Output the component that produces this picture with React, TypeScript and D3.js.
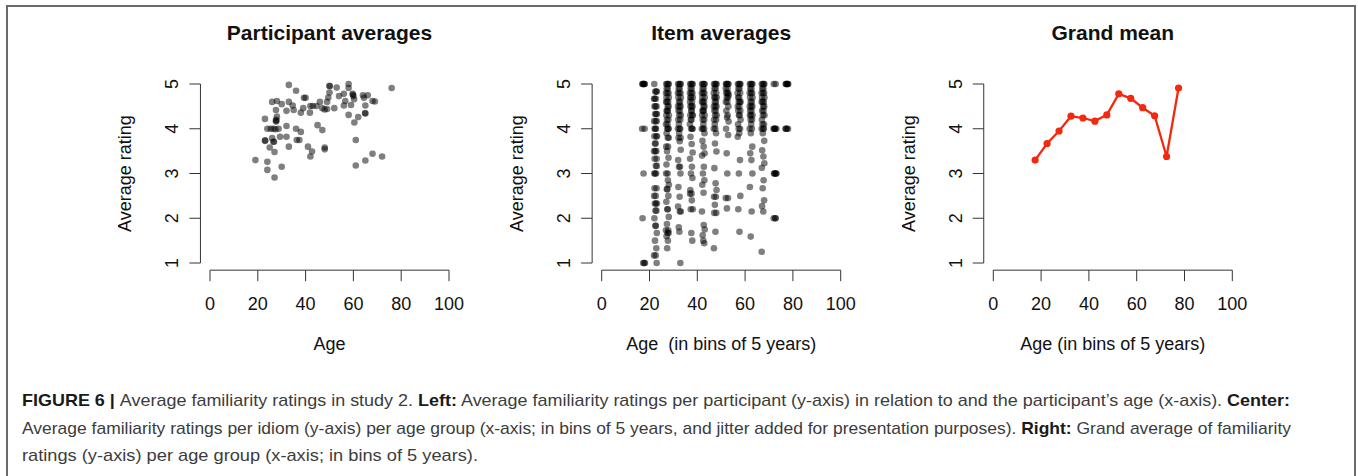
import React, { useEffect, useRef } from "react";
import * as d3 from "d3";

// Left panel: participant age vs their average rating
const partAge = [19, 24, 24, 27, 30, 23, 23, 24, 25.4, 26.5, 25, 26, 27, 26.5, 27.6, 27.6, 27.6, 26, 28, 30,
  28, 28.7, 29.3, 32, 32, 33, 33, 33, 34.6, 35, 32, 36, 36, 36.3, 37.4, 38, 38, 39, 39.3, 40,
  41, 41.8, 42, 42.7, 42, 43, 44.6, 45, 46, 47, 47, 48, 48, 48, 49, 49, 49.5, 50, 50, 52,
  53, 54, 56, 56, 56.6, 58, 58, 58, 59, 59.7, 60, 60.4, 60.3, 61, 61, 62, 64, 64.4, 65, 65,
  65, 66, 68, 68, 69, 72, 76, 23.1, 27.8, 26.8, 50.1, 59.8, 64.9, 27.4];
const partRating = [3.3, 3.26, 3.08, 2.91, 3.15, 4.22, 3.73, 4.0, 4.0, 4.0, 3.58, 3.79, 3.48, 3.71, 4.2, 4.16, 4.42, 4.6, 4.62, 4.55,
  4.27, 4.0, 3.82, 4.06, 3.82, 3.6, 4.98, 4.6, 4.52, 4.42, 4.4, 4.85, 4.0, 3.75, 3.75, 3.93, 4.36, 4.46, 4.69, 4.69,
  3.6, 4.36, 4.51, 3.49, 3.38, 4.51, 4.51, 4.08, 4.6, 3.97, 4.46, 4.43, 3.58, 3.54, 4.44, 4.6, 4.7, 4.96, 4.81, 4.46,
  4.92, 4.73, 4.78, 4.52, 4.62, 5.0, 4.91, 4.31, 4.53, 4.78, 4.73, 4.14, 4.66, 3.75, 3.18, 4.26, 4.75, 4.69, 3.29, 4.52,
  4.34, 4.75, 3.44, 4.62, 4.61, 3.38, 4.91, 3.74, 4.18, 3.71, 4.95, 4.76, 4.35, 3.99];

// Centre panel: item averages per 5-year age bin
const binMids = [17.5, 22.5, 27.5, 32.5, 37.5, 42.5, 47.5, 52.5, 57.5, 62.5, 67.5, 72.5, 77.5];
const bin17 = [5, 5, 5, 5, 5, 5, 4, 4, 3, 2, 1, 1, 1];
const bin22 = [5, 4.83, 4.83, 4.83, 4.67, 4.67, 4.67, 4.5, 4.5, 4.5, 4.33, 4.33, 4.33, 4.17, 4.17, 4.17, 4, 4, 4, 3.83,
  3.83, 3.83, 3.67, 3.67, 3.5, 3.5, 3.5, 3.33, 3.33, 3.17, 3.17, 3, 3, 3, 2.67, 2.67, 2.5, 2.5, 2.33, 2.33,
  2.33, 2.17, 2.17, 2, 1.83, 1.83, 1.67, 1.5, 1.33, 1.17, 1.17, 1];
const bin27 = [5, 5, 5, 5, 4.9, 4.9, 4.8, 4.8, 4.8, 4.7, 4.7, 4.6, 4.6, 4.6, 4.5, 4.5, 4.4, 4.4, 4.4, 4.3,
  4.3, 4.2, 4.2, 4.1, 4.1, 4, 4, 4, 3.9, 3.8, 3.8, 3.6, 3.6, 3.5, 3.35, 3.2, 3, 3, 2.85, 2.75,
  2.65, 2.65, 2.5, 2.37, 2.2, 2.2, 2.03, 1.87, 1.73, 1.73, 1.67, 1.67, 1.6, 1.5, 1.33];
const bin32 = [5, 5, 5, 5, 4.9, 4.9, 4.8, 4.8, 4.8, 4.7, 4.7, 4.6, 4.6, 4.5, 4.5, 4.5, 4.4, 4.4, 4.3, 4.3,
  4.2, 4.2, 4.1, 4, 4, 4, 3.9, 3.8, 3.8, 3.72, 3.53, 3.3, 3.15, 3.15, 3, 2.7, 2.48, 2.26, 2.15, 2.15,
  1.8, 1.7, 1];
const bin37 = [5, 5, 5, 5, 4.9, 4.9, 4.8, 4.8, 4.8, 4.7, 4.7, 4.7, 4.6, 4.6, 4.5, 4.5, 4.5, 4.4, 4.4, 4.3,
  4.3, 4.3, 4.2, 4.2, 4.1, 4, 4, 4, 3.82, 3.66, 3.47, 3.33, 3.15, 3, 2.9, 2.63, 2.55, 2.55, 2.4, 2.2,
  2.2, 1.67, 1.5];
const bin42 = [5, 5, 5, 5, 4.9, 4.9, 4.8, 4.8, 4.8, 4.7, 4.7, 4.6, 4.6, 4.6, 4.5, 4.5, 4.4, 4.4, 4.4, 4.3,
  4.3, 4.2, 4.2, 4.1, 4, 4, 4, 3.9, 3.73, 3.6, 3.45, 3.4, 3.15, 3, 2.85, 2.75, 2.57, 2.15, 1.85, 1.75,
  1.62, 1.5, 1.44];
const bin47 = [5, 5, 5, 5, 4.9, 4.9, 4.8, 4.8, 4.7, 4.7, 4.7, 4.6, 4.6, 4.5, 4.5, 4.5, 4.4, 4.4, 4.3, 4.3,
  4.2, 4.2, 4.1, 4, 4, 3.9, 3.67, 3.49, 3.12, 2.78, 2.63, 2.48, 2.48, 2.3, 2.12, 2.12, 1.7, 1.33];
const bin52 = [5, 5, 5, 5, 5, 4.9, 4.9, 4.8, 4.8, 4.8, 4.75, 4.7, 4.7, 4.6, 4.6, 4.5, 4.4, 4.3, 4.25, 4.16,
  4, 3.86, 3.45, 3, 2.45, 2.45, 2.22];
const bin57 = [5, 5, 5, 5, 4.9, 4.9, 4.8, 4.8, 4.7, 4.7, 4.6, 4.6, 4.6, 4.5, 4.5, 4.4, 4.4, 4.3, 4.3, 4.2,
  4.1, 4, 4, 3.9, 3.82, 3.3, 3, 2.5, 2.2, 1.7];
const bin62 = [5, 5, 5, 5, 4.9, 4.9, 4.8, 4.8, 4.8, 4.7, 4.7, 4.6, 4.6, 4.5, 4.5, 4.5, 4.4, 4.4, 4.3, 4.3,
  4.3, 4.2, 4.2, 4.1, 4, 4, 3.9, 3.6, 3.45, 3.3, 3, 2.7, 2.15, 1.59];
const bin67 = [5, 5, 5, 5, 4.9, 4.9, 4.8, 4.8, 4.8, 4.7, 4.7, 4.6, 4.6, 4.6, 4.5, 4.5, 4.4, 4.4, 4.3, 4.3,
  4.2, 4.1, 4.1, 4, 4, 4, 3.9, 3.73, 3.52, 3.38, 3.23, 3.13, 2.85, 2.67, 2.4, 2.27, 2.15, 1.25];
const bin72 = [5, 5, 4, 4, 4, 4, 4, 3, 3, 3, 3, 3, 2, 2, 2];
const bin77 = [5, 5, 5, 5, 5, 5, 4, 4, 4, 4];
const itemBins = [bin17, bin22, bin27, bin32, bin37, bin42, bin47, bin52, bin57, bin62, bin67, bin72, bin77];
// horizontal jitter (years) added for presentation
const jitter = [-0.5, 0.3, -0.1, 0.55, -0.3, 0.15, -0.6, 0.45, 0.0, -0.4, 0.6, -0.15, 0.3, -0.55, 0.1, 0.5, -0.35, 0.2, -0.05, 0.6,
  -0.45, 0.4, -0.2, 0.05, -0.6, 0.35, -0.1, 0.5, -0.35, 0.15, 0.55, -0.5, 0.25, -0.15, 0.45, -0.4, 0.1, -0.55, 0.2, 0.6,
  -0.25, 0.0, 0.4, -0.45, 0.15, -0.05, 0.55, -0.2, 0.35, -0.6, 0.1, 0.5, -0.35, 0.2, -0.1, 0.45, -0.5, 0.05, 0.25, -0.15];

// Right panel: grand mean per bin
const grandMean = [3.3, 3.67, 3.95, 4.28, 4.24, 4.17, 4.31, 4.78, 4.68, 4.47, 4.29, 3.38, 4.91];

const xTicks = [0, 20, 40, 60, 80, 100];
const yTicks = [1, 2, 3, 4, 5];
const titles = ["Participant averages", "Item averages", "Grand mean"];
const xLabels = ["Age", "Age  (in bins of 5 years)", "Age (in bins of 5 years)"];

const App = () => {
  const ref = useRef(null);

  useEffect(() => {
    const svg = d3.select(ref.current);
    svg.selectAll("*").remove();
    const font = "'Liberation Sans', Arial, sans-serif";

    // frame
    svg.append("path")
      .attr("d", "M7,480 V6 H1355 V480")
      .attr("fill", "none")
      .attr("stroke", "#6a6a6a")
      .attr("stroke-width", 2);

    const panelX = [210, 601.7, 993.3];
    const y = d3.scaleLinear().domain([1, 5]).range([263, 84]);

    panelX.forEach((x0, p) => {
      const x = d3.scaleLinear().domain([0, 100]).range([x0, x0 + 239]);
      const g = svg.append("g");
      const axisX = x(-4);
      const axisY = y(0.84);

      // y axis
      g.append("line").attr("x1", axisX).attr("x2", axisX).attr("y1", y(1)).attr("y2", y(5))
        .attr("stroke", "#333");
      g.selectAll(".yt").data(yTicks).enter().append("line")
        .attr("x1", axisX - 11).attr("x2", axisX).attr("y1", d => y(d)).attr("y2", d => y(d))
        .attr("stroke", "#333");
      g.selectAll(".yl").data(yTicks).enter().append("text")
        .attr("transform", d => `translate(${axisX - 22},${y(d)}) rotate(-90)`)
        .attr("text-anchor", "middle")
        .style("font", `18px ${font}`)
        .attr("fill", "#111")
        .text(d => d);

      // x axis
      g.append("line").attr("x1", x(0)).attr("x2", x(100)).attr("y1", axisY).attr("y2", axisY)
        .attr("stroke", "#333");
      g.selectAll(".xt").data(xTicks).enter().append("line")
        .attr("x1", d => x(d)).attr("x2", d => x(d)).attr("y1", axisY).attr("y2", axisY + 11)
        .attr("stroke", "#333");
      g.selectAll(".xl").data(xTicks).enter().append("text")
        .attr("x", d => x(d)).attr("y", 310)
        .attr("text-anchor", "middle")
        .style("font", `18px ${font}`)
        .attr("fill", "#111")
        .text(d => d);

      // labels
      g.append("text").attr("x", x(50)).attr("y", 40).attr("text-anchor", "middle")
        .style("font", `bold 21px ${font}`).attr("fill", "#111").text(titles[p]);
      g.append("text").attr("x", x(50)).attr("y", 350).attr("text-anchor", "middle")
        .style("font", `18px ${font}`).style("white-space", "pre").attr("fill", "#111").text(xLabels[p]);
      g.append("text")
        .attr("transform", `translate(${axisX - 69},${y(3)}) rotate(-90)`)
        .attr("text-anchor", "middle")
        .style("font", `18px ${font}`).attr("fill", "#111").text("Average rating");

      if (p === 0) {
        g.selectAll("circle").data(partAge).enter().append("circle")
          .attr("cx", d => x(d))
          .attr("cy", (d, i) => y(partRating[i]))
          .attr("r", 3.3)
          .attr("fill", "#000").attr("fill-opacity", 0.5);
      } else if (p === 1) {
        const pts = [];
        itemBins.forEach((vals, b) => {
          vals.forEach((v, i) => pts.push({ age: binMids[b] + jitter[i], v }));
        });
        g.selectAll("circle").data(pts).enter().append("circle")
          .attr("cx", d => x(d.age))
          .attr("cy", d => y(d.v))
          .attr("r", 3.3)
          .attr("fill", "#000").attr("fill-opacity", 0.5);
      } else {
        const line = d3.line().x((d, i) => x(binMids[i])).y(d => y(d));
        g.append("path").attr("d", line(grandMean))
          .attr("fill", "none").attr("stroke", "#f2290f").attr("stroke-width", 2.3);
        g.selectAll("circle").data(grandMean).enter().append("circle")
          .attr("cx", (d, i) => x(binMids[i]))
          .attr("cy", d => y(d))
          .attr("r", 3.6)
          .attr("fill", "#f2290f");
      }
    });

    // caption
    const lines = [
      { len: 1268, parts: [["FIGURE 6 | ", true], ["Average familiarity ratings in study 2. ", false], ["Left:", true],
        [" Average familiarity ratings per participant (y-axis) in relation to and the participant\u2019s age (x-axis). ", false],
        ["Center:", true]] },
      { len: 1269, parts: [["Average familiarity ratings per idiom (y-axis) per age group (x-axis; in bins of 5 years, and jitter added for presentation purposes). ", false],
        ["Right:", true], [" Grand average of familiarity", false]] },
      { len: 456, parts: [["ratings (y-axis) per age group (x-axis; in bins of 5 years).", false]] },
    ];
    lines.forEach((ln, i) => {
      const t = svg.append("text")
        .attr("x", 22).attr("y", 406 + i * 27.5)
        .attr("textLength", ln.len).attr("lengthAdjust", "spacingAndGlyphs")
        .style("font", `17px ${font}`)
        .style("white-space", "pre");
      ln.parts.forEach(([s, b]) => {
        t.append("tspan")
          .attr("font-weight", b ? "bold" : "normal")
          .attr("fill", b ? "#1a1a1a" : "#3c3c3c")
          .text(s);
      });
    });
  }, []);

  return (
    <svg ref={ref} width={1358} height={476}
      style={{ position: "absolute", left: 0, top: 0, background: "#fff" }} />
  );
};

export default App;
